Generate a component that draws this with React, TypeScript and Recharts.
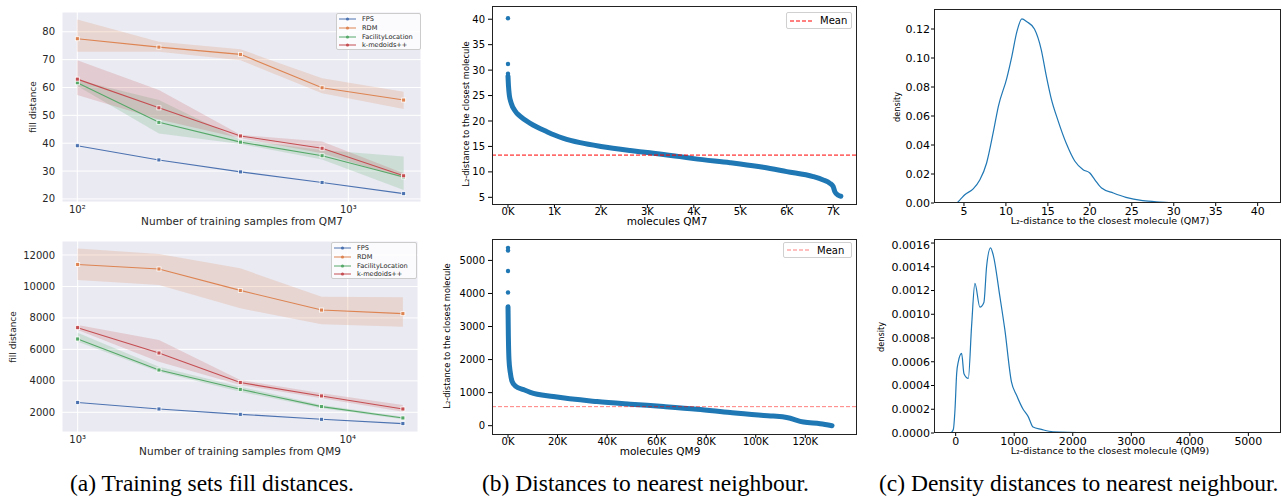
import React from "react";
import {
  ComposedChart,
  LineChart,
  Line,
  Area,
  Scatter,
  XAxis,
  YAxis,
  CartesianGrid,
  ReferenceLine,
} from "recharts";

// ---- (a) fill distances ----
const methodNames = ["FPS", "RDM", "FacilityLocation", "k-medoids++"];

const samplesQM7 = [100, 200, 400, 800, 1600];
const fpsQM7 = [39.1, 34.0, 29.7, 25.9, 21.9];
const rdmQM7 = [77.5, 74.5, 71.9, 59.9, 55.5];
const rdmQM7Lo = [72.8, 72.8, 69.8, 57.9, 52.3];
const rdmQM7Hi = [84.4, 76.4, 73.7, 63.3, 58.5];
const flQM7 = [61.7, 47.5, 40.4, 35.5, 27.9];
const flQM7Lo = [60.5, 43.5, 39.7, 34.2, 23.2];
const flQM7Hi = [62.7, 55.5, 41.2, 37.6, 35.2];
const kmQM7 = [63.0, 52.7, 42.6, 38.2, 28.3];
const kmQM7Lo = [57.3, 48.5, 41.8, 36.4, 27.4];
const kmQM7Hi = [69.8, 59.1, 43.0, 40.6, 29.2];

const samplesQM9 = [1000, 2000, 4000, 8000, 16000];
const fpsQM9 = [2620, 2210, 1870, 1555, 1280];
const rdmQM9 = [11400, 11110, 9750, 8500, 8270];
const rdmQM9Lo = [10410, 10090, 8610, 7590, 7440];
const rdmQM9Hi = [12420, 12060, 11150, 9350, 9310];
const flQM9 = [6660, 4690, 3460, 2360, 1640];
const flQM9Lo = [6490, 4580, 3310, 2250, 1555];
const flQM9Hi = [7060, 4900, 3630, 2470, 1720];
const kmQM9 = [7380, 5770, 3890, 3040, 2210];
const kmQM9Lo = [7230, 5220, 3740, 2890, 2040];
const kmQM9Hi = [7550, 6600, 4060, 3210, 2470];

// ---- (b) sorted nearest-neighbour distances ----
const qm7Index = [0, 10, 30, 70, 150, 265, 480, 838, 1000, 1196, 1555, 2000, 2630, 3000, 3700, 4000, 4780, 5000, 5495, 6000, 6570, 6785, 6930, 7000, 7036, 7108, 7165];
const qm7Dist = [28.8, 27, 25, 23.5, 22, 20.9, 19.55, 17.9, 17.25, 16.6, 15.75, 15.0, 14.2, 13.8, 13.0, 12.6, 11.8, 11.55, 10.9, 10.05, 9.07, 8.4, 7.75, 7.1, 6.1, 5.4, 5.2];
const qm7Outliers = [40.2, 31.2, 29.3];
const qm7Mean = 13.3;

const qm9Index = [0, 150, 400, 940, 1600, 3000, 6300, 9000, 18300, 35900, 49400, 62800, 76300, 89700, 103200, 107000, 112500, 119300, 126000, 130800];
const qm9Dist = [3600, 2700, 2000, 1600, 1350, 1200, 1090, 1010, 880, 730, 650, 580, 500, 400, 310, 290, 250, 110, 60, 0];
const qm9Outliers = [5380, 5300, 4680, 4030];
const qm9Mean = 576;

// ---- (c) density ----
const kde7X = [3.3, 4.1, 4.5, 5.1, 6.1, 6.9, 7.7, 8.5, 9.1, 10.1, 10.7, 11.3, 11.9, 12.5, 13.4, 14.2, 14.8, 15.4, 16.2, 17.2, 18.2, 19.2, 20.0, 20.6, 21.4, 22.8, 24.3, 26.3, 28.3, 30.3, 34, 42];
const kde7Y = [0, 0, 0.002, 0.0057, 0.0097, 0.016, 0.0276, 0.049, 0.0667, 0.086, 0.101, 0.118, 0.127, 0.125, 0.12, 0.106, 0.088, 0.072, 0.057, 0.041, 0.029, 0.023, 0.0207, 0.016, 0.0103, 0.0069, 0.0039, 0.0016, 0.0007, 0.0002, 0.00005, 0];

const kde9X = [-85, -40, -11, 17, 45, 102, 142, 216, 272, 329, 414, 482, 528, 596, 641, 755, 840, 953, 1039, 1152, 1237, 1322, 1464, 1663, 2344, 3000, 5437];
const kde9Y = [0, 0.00003, 0.0002, 0.0005, 0.0006, 0.00067, 0.0005, 0.00046, 0.0009, 0.00126, 0.00106, 0.0011, 0.0014, 0.00156, 0.0015, 0.00115, 0.00087, 0.00043, 0.00032, 0.0002, 0.00014, 0.00005, 0.00003, 0.00001, 0.000003, 0.000001, 0];

const FONT = "DejaVu Sans";
const COLORS = ["#4C72B0", "#DD8452", "#55A868", "#C44E52"];
const BLUE = "#1f77b4";

type Rect = { x: number; y: number; w: number; h: number };

const SUP: Record<string, string> = { "0": "⁰", "1": "¹", "2": "²", "3": "³", "4": "⁴", "5": "⁵" };
const logTick = (v: number) => "10" + String(Math.round(Math.log10(v))).split("").map((c) => SUP[c]).join("");

const squareDot = (color: string) => (p: any) => (
  <rect key={`d${p.index}`} x={p.cx - 2} y={p.cy - 2} width={4} height={4} fill={color} stroke="#fff" strokeWidth={0.8} />
);

function FillPanel(props: {
  plot: Rect;
  samples: number[];
  series: number[][];
  lows: number[][];
  highs: number[][];
  xDomain: [number, number];
  xTicks: number[];
  yDomain: [number, number];
  yTicks: number[];
}) {
  const { plot, samples, series, lows, highs } = props;
  const rows = samples.map((n, i) => {
    const r: any = { n };
    series.forEach((s, k) => {
      r["s" + k] = s[i];
      r["b" + k] = [lows[k][i], highs[k][i]];
    });
    return r;
  });
  const YW = 40;
  const XH = 24;
  const tick = { fontSize: 10, fill: "#262626", fontFamily: FONT };
  return (
    <div style={{ position: "absolute", left: plot.x - YW, top: plot.y }}>
      <ComposedChart width={plot.w + YW} height={plot.h + XH} data={rows} margin={{ top: 0, right: 0, bottom: 0, left: 0 }}>
        <CartesianGrid fill="#EAEAF2" stroke="#ffffff" strokeWidth={1} />
        <XAxis
          dataKey="n"
          type="number"
          scale="log"
          domain={props.xDomain}
          ticks={props.xTicks}
          allowDataOverflow
          tickFormatter={logTick}
          axisLine={false}
          tickLine={false}
          tickSize={0}
          tickMargin={4}
          height={XH}
          tick={tick}
        />
        <YAxis
          type="number"
          domain={props.yDomain}
          ticks={props.yTicks}
          allowDataOverflow
          axisLine={false}
          tickLine={false}
          tickSize={0}
          tickMargin={7}
          width={YW}
          tick={tick}
        />
        {series.map((_, k) =>
          k === 0 ? null : (
            <Area
              key={"b" + k}
              type="linear"
              dataKey={"b" + k}
              stroke="none"
              fill={COLORS[k]}
              fillOpacity={0.2}
              activeDot={false}
              isAnimationActive={false}
            />
          )
        )}
        {series.map((_, k) => (
          <Line
            key={"s" + k}
            type="linear"
            dataKey={"s" + k}
            stroke={COLORS[k]}
            strokeWidth={1.1}
            dot={squareDot(COLORS[k])}
            activeDot={false}
            isAnimationActive={false}
          />
        ))}
      </ComposedChart>
    </div>
  );
}

function MethodLegend({ box }: { box: Rect }) {
  return (
    <div
      style={{
        position: "absolute",
        left: box.x,
        top: box.y,
        width: box.w,
        height: box.h,
        boxSizing: "border-box",
        background: "rgba(255,255,255,0.8)",
        border: "1px solid #cccccc",
        borderRadius: 2,
        padding: "1px 0 0 2px",
      }}
    >
      {methodNames.map((name, k) => (
        <div key={name} style={{ display: "flex", alignItems: "center", height: 8.7 }}>
          <svg width={18} height={6} style={{ marginRight: 5 }}>
            <line x1={0} y1={3} x2={17} y2={3} stroke={COLORS[k]} strokeWidth={1} />
            <circle cx={8.5} cy={3} r={1.6} fill={COLORS[k]} />
          </svg>
          <span style={{ fontFamily: FONT, fontSize: 6.6, color: "#262626", whiteSpace: "nowrap" }}>{name}</span>
        </div>
      ))}
    </div>
  );
}

function ScatterPanel(props: {
  plot: Rect;
  index: number[];
  dist: number[];
  outliers: number[];
  mean: number;
  meanColor: string;
  xDomain: [number, number];
  xTicks: number[];
  yDomain: [number, number];
  yTicks: number[];
}) {
  const { plot } = props;
  const curve = props.index.map((i, k) => ({ i, d: props.dist[k] }));
  const dots = props.outliers.map((d) => ({ i: 0, d }));
  const YW = 40;
  const XH = 20;
  const tick = { fontSize: 10, fill: "#000", fontFamily: FONT };
  return (
    <>
      <div style={{ position: "absolute", left: plot.x - YW, top: plot.y }}>
        <ComposedChart width={plot.w + YW} height={plot.h + XH} margin={{ top: 0, right: 0, bottom: 0, left: 0 }}>
          <XAxis
            dataKey="i"
            type="number"
            domain={props.xDomain}
            ticks={props.xTicks}
            allowDataOverflow
            tickFormatter={(v: number) => `${Math.round(v / 1000)}K`}
            axisLine={false}
            tickLine={{ stroke: "#000" }}
            tickSize={3}
            tickMargin={0}
            height={XH}
            tick={tick}
          />
          <YAxis
            dataKey="d"
            type="number"
            domain={props.yDomain}
            ticks={props.yTicks}
            allowDataOverflow
            axisLine={false}
            tickLine={{ stroke: "#000" }}
            tickSize={4}
            tickMargin={3}
            width={YW}
            tick={tick}
          />
          <Line
            data={curve}
            dataKey="d"
            type="monotone"
            stroke={BLUE}
            strokeWidth={5}
            strokeLinecap="round"
            strokeLinejoin="round"
            dot={false}
            activeDot={false}
            isAnimationActive={false}
          />
          <Scatter
            data={dots}
            dataKey="d"
            fill={BLUE}
            shape={(p: any) => <circle cx={p.cx} cy={p.cy} r={2.2} fill={BLUE} />}
            isAnimationActive={false}
          />
          <ReferenceLine y={props.mean} stroke={props.meanColor} strokeWidth={1} strokeDasharray="4 2" />
        </ComposedChart>
      </div>
      <Frame plot={plot} />
    </>
  );
}

function MeanLegend({ box, color }: { box: Rect; color: string }) {
  return (
    <div
      style={{
        position: "absolute",
        left: box.x,
        top: box.y,
        width: box.w,
        height: box.h,
        boxSizing: "border-box",
        background: "rgba(255,255,255,0.8)",
        border: "1px solid #d0d0d0",
        borderRadius: 2,
        display: "flex",
        alignItems: "center",
        paddingLeft: 3,
      }}
    >
      <svg width={22} height={4} style={{ marginRight: 8 }}>
        <line x1={0} y1={2} x2={22} y2={2} stroke={color} strokeWidth={1} strokeDasharray="4 2" />
      </svg>
      <span style={{ fontFamily: FONT, fontSize: 10, color: "#000" }}>Mean</span>
    </div>
  );
}

function DensityPanel(props: {
  plot: Rect;
  xs: number[];
  ys: number[];
  xDomain: [number, number];
  xTicks: number[];
  yDomain: [number, number];
  yTicks: number[];
  digits: number;
}) {
  const { plot } = props;
  const rows = props.xs.map((x, k) => ({ x, y: props.ys[k] }));
  const YW = 50;
  const XH = 20;
  const tick = { fontSize: 11, fill: "#000", fontFamily: FONT };
  return (
    <>
      <div style={{ position: "absolute", left: plot.x - YW, top: plot.y }}>
        <LineChart width={plot.w + YW} height={plot.h + XH} data={rows} margin={{ top: 0, right: 0, bottom: 0, left: 0 }}>
          <XAxis
            dataKey="x"
            type="number"
            domain={props.xDomain}
            ticks={props.xTicks}
            allowDataOverflow
            axisLine={false}
            tickLine={{ stroke: "#000" }}
            tickSize={3}
            tickMargin={1}
            height={XH}
            tick={tick}
          />
          <YAxis
            type="number"
            domain={props.yDomain}
            ticks={props.yTicks}
            allowDataOverflow
            tickFormatter={(v: number) => v.toFixed(props.digits)}
            axisLine={false}
            tickLine={{ stroke: "#000" }}
            tickSize={3}
            tickMargin={1}
            width={YW}
            tick={tick}
          />
          <Line
            dataKey="y"
            type="monotone"
            stroke={BLUE}
            strokeWidth={1.2}
            dot={false}
            activeDot={false}
            isAnimationActive={false}
          />
        </LineChart>
      </div>
      <Frame plot={plot} />
    </>
  );
}

function Frame({ plot }: { plot: Rect }) {
  return (
    <div
      style={{
        position: "absolute",
        left: plot.x,
        top: plot.y,
        width: plot.w,
        height: plot.h,
        boxSizing: "border-box",
        border: "1px solid #222",
        pointerEvents: "none",
      }}
    />
  );
}

function Label({ x, y, text, size, rotate, color }: { x: number; y: number; text: string; size: number; rotate?: boolean; color?: string }) {
  return (
    <div
      style={{
        position: "absolute",
        left: x,
        top: y,
        transform: `translate(-50%, -50%)${rotate ? " rotate(-90deg)" : ""}`,
        whiteSpace: "nowrap",
        fontFamily: FONT,
        fontSize: size,
        lineHeight: 1,
        color: color ?? "#262626",
      }}
    >
      {text}
    </div>
  );
}

function Caption({ x, text }: { x: number; text: string }) {
  return (
    <div
      style={{
        position: "absolute",
        left: x,
        top: 472,
        whiteSpace: "nowrap",
        fontFamily: "Liberation Serif",
        fontSize: 23.5,
        lineHeight: "23.5px",
        color: "#000",
      }}
    >
      {text}
    </div>
  );
}

export default function App() {
  const A1 = { x: 62, y: 12, w: 359, h: 190 };
  const A2 = { x: 62, y: 241, w: 356, h: 191 };
  const B1 = { x: 492, y: 6, w: 365, h: 199 };
  const B2 = { x: 492, y: 239, w: 365, h: 196 };
  const C1 = { x: 934, y: 9, w: 347, h: 194 };
  const C2 = { x: 934, y: 239, w: 347, h: 194 };
  return (
    <div style={{ position: "absolute", left: 0, top: 0, width: 1282, height: 497, background: "#fff", overflow: "hidden" }}>
      <FillPanel
        plot={A1}
        samples={samplesQM7}
        series={[fpsQM7, rdmQM7, flQM7, kmQM7]}
        lows={[fpsQM7, rdmQM7Lo, flQM7Lo, kmQM7Lo]}
        highs={[fpsQM7, rdmQM7Hi, flQM7Hi, kmQM7Hi]}
        xDomain={[87.8, 1854]}
        xTicks={[100, 1000]}
        yDomain={[18.9, 87.1]}
        yTicks={[20, 30, 40, 50, 60, 70, 80]}
      />
      <MethodLegend box={{ x: 336, y: 13, w: 85, h: 37 }} />
      <Label x={33} y={107} text="fill distance" size={9} rotate />
      <Label x={242} y={221} text="Number of training samples from QM7" size={10.5} />

      <FillPanel
        plot={A2}
        samples={samplesQM9}
        series={[fpsQM9, rdmQM9, flQM9, kmQM9]}
        lows={[fpsQM9, rdmQM9Lo, flQM9Lo, kmQM9Lo]}
        highs={[fpsQM9, rdmQM9Hi, flQM9Hi, kmQM9Hi]}
        xDomain={[875, 18200]}
        xTicks={[1000, 10000]}
        yDomain={[747, 12890]}
        yTicks={[2000, 4000, 6000, 8000, 10000, 12000]}
      />
      <MethodLegend box={{ x: 331, y: 242, w: 86, h: 37 }} />
      <Label x={13} y={337} text="fill distance" size={9} rotate />
      <Label x={240} y={451} text="Number of training samples from QM9" size={10.5} />

      <ScatterPanel
        plot={B1}
        index={qm7Index}
        dist={qm7Dist}
        outliers={qm7Outliers}
        mean={qm7Mean}
        meanColor="#ff0000"
        xDomain={[-344, 7512]}
        xTicks={[0, 1000, 2000, 3000, 4000, 5000, 6000, 7000]}
        yDomain={[3.49, 42.6]}
        yTicks={[5, 10, 15, 20, 25, 30, 35, 40]}
      />
      <MeanLegend box={{ x: 786, y: 12, w: 66, h: 17 }} color="#ff0000" />
      <Label x={466} y={114} text="L₂-distance to the closest molecule" size={8.3} rotate color="#000" />
      <Label x={667} y={221} text="molecules QM7" size={10.5} color="#000" />

      <ScatterPanel
        plot={B2}
        index={qm9Index}
        dist={qm9Dist}
        outliers={qm9Outliers}
        mean={qm9Mean}
        meanColor="rgba(255,0,0,0.5)"
        xDomain={[-6460, 140870]}
        xTicks={[0, 20000, 40000, 60000, 80000, 100000, 120000]}
        yDomain={[-282, 5648]}
        yTicks={[0, 1000, 2000, 3000, 4000, 5000]}
      />
      <MeanLegend box={{ x: 783, y: 242, w: 69, h: 16 }} color="rgba(255,0,0,0.5)" />
      <Label x={447} y={336} text="L₂-distance to the closest molecule" size={8.3} rotate color="#000" />
      <Label x={660} y={451} text="molecules QM9" size={10.5} color="#000" />

      <DensityPanel
        plot={C1}
        xs={kde7X}
        ys={kde7Y}
        xDomain={[1.43, 42.78]}
        xTicks={[5, 10, 15, 20, 25, 30, 35, 40]}
        yDomain={[0, 0.1338]}
        yTicks={[0, 0.02, 0.04, 0.06, 0.08, 0.1, 0.12]}
        digits={2}
      />
      <Label x={897} y={107} text="density" size={8.2} rotate color="#000" />
      <Label x={1110} y={221} text="L₂-distance to the closest molecule (QM7)" size={9.5} color="#000" />

      <DensityPanel
        plot={C2}
        xs={kde9X}
        ys={kde9Y}
        xDomain={[-370, 5557]}
        xTicks={[0, 1000, 2000, 3000, 4000, 5000]}
        yDomain={[0, 0.001634]}
        yTicks={[0, 0.0002, 0.0004, 0.0006, 0.0008, 0.001, 0.0012, 0.0014, 0.0016]}
        digits={4}
      />
      <Label x={881} y={337} text="density" size={8.2} rotate color="#000" />
      <Label x={1110} y={451} text="L₂-distance to the closest molecule (QM9)" size={9.5} color="#000" />

      <Caption x={70} text="(a) Training sets fill distances." />
      <Caption x={482} text="(b) Distances to nearest neighbour." />
      <Caption x={879} text="(c) Density distances to nearest neighbour." />
    </div>
  );
}
